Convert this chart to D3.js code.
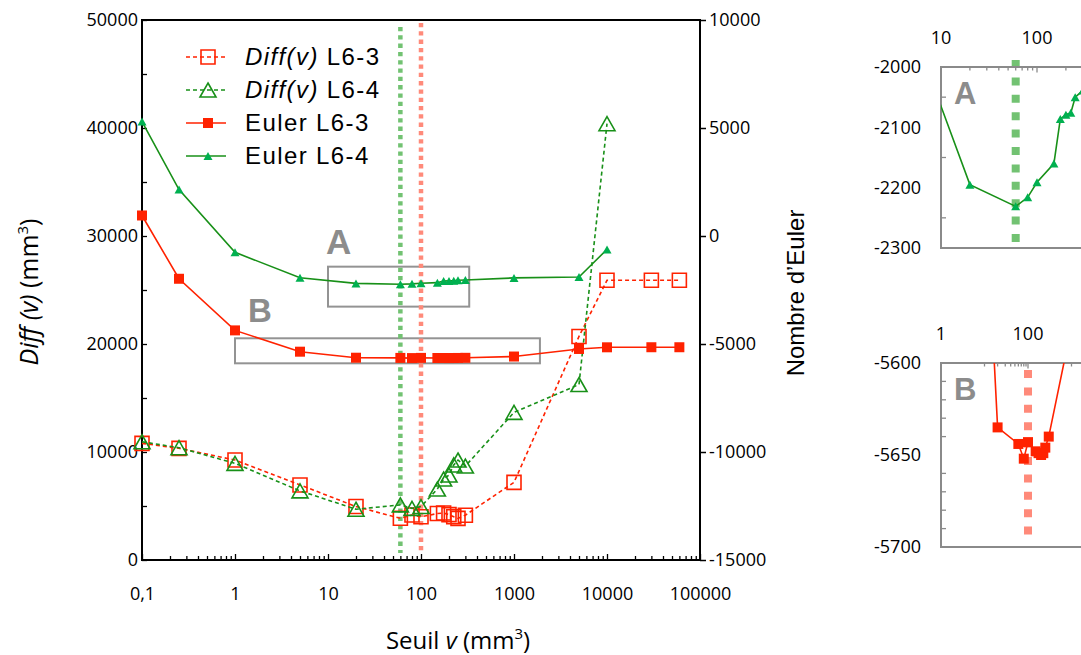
<!DOCTYPE html>
<html><head><meta charset="utf-8">
<script src="https://cdn.jsdelivr.net/npm/d3@7"></script>
<style>body{margin:0;background:#fff}</style>
</head><body>
<svg id="c" width="1081" height="655" xmlns="http://www.w3.org/2000/svg"></svg>
<script>
// ---------------- DATA ----------------
const thresholds = [0.1, 0.25, 1, 5, 20, 60, 80, 100, 150, 175, 200, 225, 250, 300, 1000, 5000, 10000, 30000, 60000];
const diffL63  = [10800, 10340, 9260, 6950, 4950, 3860, 4170, 4000, 4300, 4350, 4200, 4000, 3850, 4150, 7190, 20700, 25900, 25900, 25900];
const diffL64  = [10950, 10400, 8950, 6400, 4700, 5100, 4780, 4950, 6570, 7500, 7870, 8800, 9260, 8700, 13670, 16250, 40400];
const eulerL63 = [950, -1980, -4370, -5356, -5635, -5644, -5652, -5643, -5648, -5649, -5650, -5649, -5646, -5640, -5580, -5230, -5153, -5150, -5150];
const eulerL64 = [5300, 2150, -755, -1935, -2195, -2231, -2216, -2191, -2160, -2086, -2079, -2076, -2050, -2039, -1940, -1900, -620];
const optimumL64 = 60, optimumL63 = 100;

const xMajor = [0.1, 1, 10, 100, 1000, 10000, 100000];
const xTickLabels = ["0,1", "1", "10", "100", "1000", "10000", "100000"];
const leftTicks = [0, 5000, 10000, 15000, 20000, 25000, 30000, 35000, 40000, 45000, 50000];
const rightTicks = [-15000, -10000, -5000, 0, 5000, 10000];
const legendLabels = [["Diff(v)", " L6-3"], ["Diff(v)", " L6-4"], ["", "Euler L6-3"], ["", "Euler L6-4"]];
// zoom boxes (x range, Euler range)
const boxA = {x: [10, 330], y: [-1420, -3270], label: "A"};
const boxB = {x: [1, 1900], y: [-4736, -5894], label: "B"};
// insets
const insetAYLabels = [-2000, -2100, -2200, -2300];
const insetAYMinor = [-2050, -2150, -2250];
const insetAXLabels = [10, 100];
const insetAXMajor = [10, 100, 1000];
const insetBYLabels = [-5600, -5650, -5700];
const insetBYMinor = [-5610, -5620, -5630, -5640, -5660, -5670, -5680, -5690];
const insetBXLabels = [1, 100];
const insetBXMajor = [1, 100, 10000];

// ---------------- SETUP ----------------
const svg = d3.select("#c");
const RED = "#ff2200", GREEN = "#189018", GREEN_M = "#00b050";
const DOT_G = "#72c272", DOT_R = "#ff8a7a";
const TICKFONT = "'Open Sans', sans-serif";
const ARIAL = "'Liberation Sans', Arial, sans-serif";

const L = 142, R = 700, T = 20, B = 560;
const x = d3.scaleLog().domain([0.1, 100000]).range([L, R]);
const yL = d3.scaleLinear().domain([0, 50000]).range([B, T]);
const yR = d3.scaleLinear().domain([-15000, 10000]).range([B, T]);

function tri(w, h) { return `M0,${-h/2}L${w/2},${h/2}L${-w/2},${h/2}Z`; }
function logMinor(lo, hi) {
  const out = [];
  for (let d = lo; d < hi * 0.999; d *= 10) for (let k = 2; k <= 9; k++) out.push(d * k);
  return out;
}

// frame
svg.append("rect").attr("x", L).attr("y", T).attr("width", R - L).attr("height", B - T)
  .attr("fill", "none").attr("stroke", "#000").attr("stroke-width", 2);

// bottom axis minor
const gxm = svg.append("g").attr("transform", `translate(0,${B})`)
  .call(d3.axisBottom(x).tickValues(logMinor(0.1, 100000)).tickSizeInner(-4).tickSizeOuter(0).tickFormat(""));
gxm.select(".domain").remove();
gxm.selectAll("line").attr("stroke", "#000").attr("stroke-width", 1.3);
// bottom axis major
const gx = svg.append("g").attr("transform", `translate(0,${B})`)
  .call(d3.axisBottom(x).tickValues(xMajor).tickSizeInner(-6).tickSizeOuter(0).tickPadding(27)
    .tickFormat((d, i) => xTickLabels[i]));
gx.select(".domain").remove();
gx.selectAll("line").attr("stroke", "#000").attr("stroke-width", 1.3);
gx.selectAll("text").attr("font-family", TICKFONT).attr("font-size", 18).attr("fill", "#000");

// left axis
const gyl = svg.append("g").attr("transform", `translate(${L},0)`)
  .call(d3.axisLeft(yL).tickValues(leftTicks).tickSizeInner(-5).tickSizeOuter(0).tickPadding(4)
    .tickFormat(d => d % 10000 === 0 ? String(d) : ""));
gyl.select(".domain").remove();
gyl.selectAll("line").attr("stroke", "#000").attr("stroke-width", 1.3);
gyl.selectAll("text").attr("font-family", TICKFONT).attr("font-size", 18).attr("fill", "#000");

// right axis
const gyr = svg.append("g").attr("transform", `translate(${R},0)`)
  .call(d3.axisRight(yR).tickValues(rightTicks).tickSizeInner(6).tickSizeOuter(0).tickPadding(3)
    .tickFormat(d => String(d)));
gyr.select(".domain").remove();
gyr.selectAll("line").attr("stroke", "#000").attr("stroke-width", 1.5);
gyr.selectAll("text").attr("font-family", TICKFONT).attr("font-size", 18).attr("fill", "#000");

// axis titles
const yt = svg.append("text").attr("transform", `translate(38,292) rotate(-90)`)
  .attr("text-anchor", "middle").attr("font-family", TICKFONT).attr("font-size", 25).attr("fill", "#000");
yt.append("tspan").attr("font-style", "italic").text("Diff (v)");
yt.append("tspan").text(" (mm");
yt.append("tspan").attr("font-size", 15).attr("dy", -10).text("3");
yt.append("tspan").attr("dy", 10).text(")");

const xt = svg.append("text").attr("x", 458).attr("y", 649)
  .attr("text-anchor", "middle").attr("font-family", TICKFONT).attr("font-size", 24).attr("fill", "#000");
xt.append("tspan").text("Seuil ");
xt.append("tspan").attr("font-style", "italic").text("v");
xt.append("tspan").text(" (mm");
xt.append("tspan").attr("font-size", 15).attr("dy", -10).text("3");
xt.append("tspan").attr("dy", 10).text(")");

svg.append("text").attr("transform", `translate(804,293) rotate(-90)`)
  .attr("text-anchor", "middle").attr("font-family", ARIAL).attr("font-size", 24).attr("fill", "#000")
  .text("Nombre d\u2019Euler");

// zoom boxes
[boxA, boxB].forEach(b => {
  const x0 = x(b.x[0]), x1 = x(b.x[1]), y0 = yR(b.y[0]), y1 = yR(b.y[1]);
  svg.append("rect").attr("x", x0).attr("y", y0).attr("width", x1 - x0).attr("height", y1 - y0)
    .attr("fill", "none").attr("stroke", "#939393").attr("stroke-width", 2);
});
svg.append("text").attr("x", x(boxA.x[0]) - 2).attr("y", yR(boxA.y[0]) - 13)
  .attr("font-family", ARIAL).attr("font-weight", "bold").attr("font-size", 35).attr("fill", "#8c8c8c").text(boxA.label);
svg.append("text").attr("x", x(boxB.x[0]) + 13).attr("y", yR(boxB.y[0]) - 16)
  .attr("font-family", ARIAL).attr("font-weight", "bold").attr("font-size", 33).attr("fill", "#8c8c8c").text(boxB.label);

// vertical dotted lines (optimum thresholds)
svg.append("line").attr("x1", x(optimumL64)).attr("x2", x(optimumL64)).attr("y1", 27).attr("y2", 553)
  .attr("stroke", DOT_G).attr("stroke-width", 4.5).attr("stroke-dasharray", "4.3,4");
svg.append("line").attr("x1", x(optimumL63)).attr("x2", x(optimumL63)).attr("y1", 23).attr("y2", 551)
  .attr("stroke", DOT_R).attr("stroke-width", 4.5).attr("stroke-dasharray", "4.3,4");

// series
const pts = (vals) => vals.map((v, i) => [thresholds[i], v]);
const lineL = d3.line().x(d => x(d[0])).y(d => yL(d[1]));
const lineR = d3.line().x(d => x(d[0])).y(d => yR(d[1]));

function drawSeries(g, data, lineGen, yS, color, dash, marker) {
  g.append("path").attr("d", lineGen(data)).attr("fill", "none").attr("stroke", color)
    .attr("stroke-width", 1.6).attr("stroke-dasharray", dash || null);
  g.selectAll(null).data(data).enter().append("path")
    .attr("transform", d => `translate(${x(d[0])},${yS(d[1])})`)
    .attr("d", marker.d).attr("fill", marker.fill).attr("stroke", marker.stroke || "none")
    .attr("stroke-width", marker.sw || 0);
}
const mOpenSq = {d: "M-7,-7H7V7H-7Z", fill: "none", stroke: RED, sw: 1.6};
const mOpenTri = {d: tri(16, 14), fill: "none", stroke: GREEN, sw: 1.6};
const mSq = {d: "M-5,-5H5V5H-5Z", fill: RED};
const mTri = {d: tri(9, 8), fill: GREEN_M};

const gs = svg.append("g");
drawSeries(gs, pts(diffL63), lineL, yL, RED, "4,3", mOpenSq);
drawSeries(gs, pts(diffL64), lineL, yL, GREEN, "4,3", mOpenTri);
drawSeries(gs, pts(eulerL63), lineR, yR, RED, null, mSq);
drawSeries(gs, pts(eulerL64), lineR, yR, GREEN, null, mTri);

// legend
const legMarkers = [mOpenSq, mOpenTri, mSq, mTri];
const legColors = [RED, GREEN, RED, GREEN];
const legDash = ["4,3", "4,3", null, null];
const legY = [57, 90, 123, 156];
legendLabels.forEach((lab, i) => {
  const g = svg.append("g").attr("transform", `translate(0,${legY[i]})`);
  g.append("line").attr("x1", 186).attr("x2", 226).attr("y1", 0).attr("y2", 0)
    .attr("stroke", legColors[i]).attr("stroke-width", 1.6).attr("stroke-dasharray", legDash[i]);
  const m = legMarkers[i];
  g.append("path").attr("transform", "translate(208,0)").attr("d", m.d).attr("fill", m.fill)
    .attr("stroke", m.stroke || "none").attr("stroke-width", m.sw || 0);
  const t = g.append("text").attr("x", 245).attr("y", 8).attr("font-family", ARIAL).attr("font-size", 24)
    .attr("letter-spacing", 1.4).attr("fill", "#000");
  if (lab[0]) t.append("tspan").attr("font-style", "italic").text(lab[0]);
  t.append("tspan").text(lab[1]);
});

// ---------------- INSETS ----------------
function inset(cfg) {
  const g = svg.append("g");
  const xs = cfg.xs, ys = cfg.ys;
  const [x0, x1] = xs.range(); const [yb, yt2] = ys.range();
  const cid = "clip" + cfg.name;
  svg.append("clipPath").attr("id", cid).append("rect")
    .attr("x", x0).attr("y", yt2).attr("width", x1 - x0).attr("height", yb - yt2);
  // dotted line
  g.append("line").attr("x1", xs(cfg.dotX)).attr("x2", xs(cfg.dotX)).attr("y1", cfg.dotY[0]).attr("y2", cfg.dotY[1])
    .attr("stroke", cfg.dotColor).attr("stroke-width", 8).attr("stroke-dasharray", "8,9.4");
  // frame
  g.append("path").attr("d", `M${x1},${yt2}H${x0}V${yb}H${x1}`).attr("fill", "none")
    .attr("stroke", "#8a8a8a").attr("stroke-width", 2);
  // top ticks
  g.selectAll(null).data(cfg.xMinor).enter().append("line")
    .attr("x1", d => xs(d)).attr("x2", d => xs(d)).attr("y1", yt2).attr("y2", yt2 + 3.5)
    .attr("stroke", "#8a8a8a").attr("stroke-width", 1.3);
  g.selectAll(null).data(cfg.xMajor).enter().append("line")
    .attr("x1", d => xs(d)).attr("x2", d => xs(d)).attr("y1", yt2).attr("y2", yt2 + 5.5)
    .attr("stroke", "#8a8a8a").attr("stroke-width", 1.3);
  g.selectAll(null).data(cfg.xLabels).enter().append("text")
    .attr("x", d => xs(d)).attr("y", yt2 - 23).attr("text-anchor", "middle")
    .attr("font-family", TICKFONT).attr("font-size", 18).attr("fill", "#000").text(d => String(d));
  // left ticks
  g.selectAll(null).data(cfg.yMinor).enter().append("line")
    .attr("x1", x0).attr("x2", x0 + 5).attr("y1", d => ys(d)).attr("y2", d => ys(d))
    .attr("stroke", "#8a8a8a").attr("stroke-width", 1.3);
  g.selectAll(null).data(cfg.yLabels).enter().append("text")
    .attr("x", x0 - 20).attr("y", d => ys(d)).attr("dy", "0.36em").attr("text-anchor", "end")
    .attr("font-family", TICKFONT).attr("font-size", 18).attr("fill", "#000").text(d => String(d));
  // label
  g.append("text").attr("x", x0 + 13).attr("y", yt2 + 37).attr("font-family", ARIAL).attr("font-weight", "bold")
    .attr("font-size", 31).attr("fill", "#8c8c8c").text(cfg.name);
  // series
  const data = cfg.vals.map((v, i) => [thresholds[i], v]);
  const gc = g.append("g").attr("clip-path", `url(#${cid})`);
  gc.append("path").attr("d", d3.line().x(d => xs(d[0])).y(d => ys(d[1]))(data))
    .attr("fill", "none").attr("stroke", cfg.color).attr("stroke-width", 1.6);
  gc.selectAll(null).data(data).enter().append("path")
    .attr("transform", d => `translate(${xs(d[0])},${ys(d[1])})`).attr("d", cfg.marker).attr("fill", cfg.mColor);
}

inset({
  name: "A",
  xs: d3.scaleLog().domain([10, 1000]).range([941, 1133]),
  ys: d3.scaleLinear().domain([-2300, -2000]).range([248, 67]),
  xLabels: insetAXLabels, xMajor: insetAXMajor, xMinor: logMinor(10, 1000),
  yLabels: insetAYLabels, yMinor: insetAYMinor,
  dotX: optimumL64, dotY: [60, 250], dotColor: DOT_G,
  vals: eulerL64, color: GREEN, mColor: GREEN_M, marker: tri(9, 8)
});
inset({
  name: "B",
  xs: d3.scaleLog().domain([1, 10000]).range([941, 1115]),
  ys: d3.scaleLinear().domain([-5700, -5600]).range([547, 363]),
  xLabels: insetBXLabels, xMajor: insetBXMajor, xMinor: [10, 20, 30, 40, 50, 60, 70, 80, 90, 1000],
  yLabels: insetBYLabels, yMinor: insetBYMinor,
  dotX: optimumL63, dotY: [370, 537], dotColor: DOT_R,
  vals: eulerL63, color: RED, mColor: RED, marker: "M-5,-5H5V5H-5Z"
});
</script>
</body></html>
